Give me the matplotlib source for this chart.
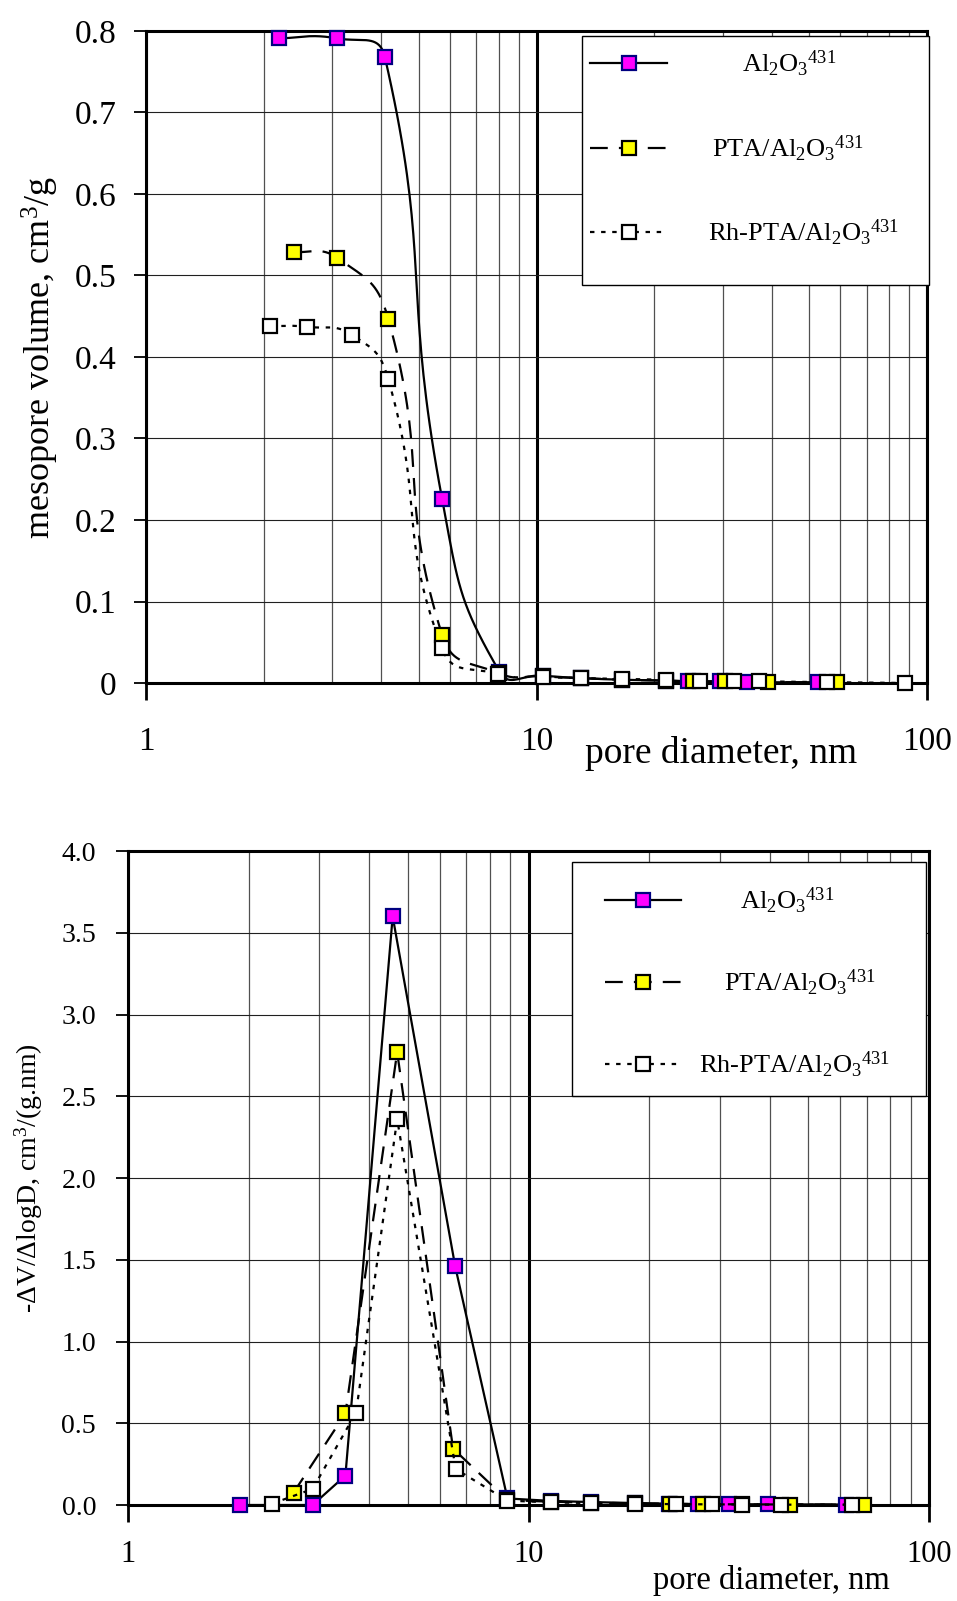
import numpy as np
import matplotlib
matplotlib.use("Agg")
import matplotlib.pyplot as plt
from matplotlib.patches import Rectangle
from matplotlib.ticker import LogLocator, FixedLocator, NullFormatter, FuncFormatter

plt.rcParams["font.family"] = ["Liberation Serif", "DejaVu Serif"]
plt.rcParams["mathtext.fontset"] = "custom"
plt.rcParams["mathtext.rm"] = "Liberation Serif"
plt.rcParams["mathtext.it"] = "Liberation Serif:italic"

# --- cumulative mesopore volume (top) ---
al_x = [2.19, 3.08, 4.09, 5.73, 8.03, 10.4, 13.0, 16.6, 21.4, 24.4, 29.5, 34.5, 52.7]
al_v = [0.791, 0.791, 0.768, 0.226, 0.014, 0.009, 0.006, 0.004, 0.003, 0.002, 0.002, 0.001, 0.001]
pta_x = [2.39, 3.08, 4.17, 5.73, 8.0, 10.4, 13.0, 16.6, 21.4, 25.2, 30.4, 39.2, 58.9]
pta_v = [0.529, 0.522, 0.447, 0.059, 0.012, 0.008, 0.006, 0.004, 0.003, 0.002, 0.002, 0.001, 0.001]
rh_x = [2.08, 2.59, 3.37, 4.17, 5.73, 7.97, 10.4, 13.0, 16.6, 21.4, 26.3, 32.1, 37.2, 55.6, 87.9]
rh_v = [0.438, 0.437, 0.427, 0.373, 0.0425, 0.011, 0.0075, 0.006, 0.005, 0.004, 0.003, 0.002, 0.002, 0.001, 0.0]

# --- pore size distribution (bottom) ---
al_xd = [1.90, 2.89, 3.49, 4.58, 6.56, 8.86, 11.4, 14.3, 18.4, 22.4, 26.5, 31.7, 39.7, 62.0]
al_d = [0.0, 0.0, 0.18, 3.60, 1.46, 0.04, 0.025, 0.018, 0.012, 0.008, 0.006, 0.005, 0.004, 0.003]
pta_xd = [2.59, 3.49, 4.70, 6.48, 8.86, 11.4, 14.3, 18.4, 22.6, 27.3, 34.2, 44.9, 69.0]
pta_d = [0.075, 0.56, 2.77, 0.345, 0.03, 0.02, 0.015, 0.01, 0.007, 0.005, 0.004, 0.003, 0.002]
rh_xd = [2.29, 2.89, 3.71, 4.70, 6.58, 8.86, 11.4, 14.3, 18.4, 23.4, 28.7, 34.2, 42.6, 64.2]
rh_d = [0.008, 0.098, 0.565, 2.36, 0.22, 0.027, 0.016, 0.012, 0.008, 0.005, 0.004, 0.003, 0.002, 0.002]

labels = [r"Al$_2$O$_3{}^{431}$", r"PTA/Al$_2$O$_3{}^{431}$", r"Rh-PTA/Al$_2$O$_3{}^{431}$"]


def smooth(xs, ys, ymax, n=40, s=0.5):
    # bezier smoothing (tangents weighted by segment length), in screen space
    W, H = 781.0, 652.0
    p = np.column_stack([np.log10(xs) / 2.0 * W, np.asarray(ys) / ymax * H])
    m = len(p)
    d = np.linalg.norm(np.diff(p, axis=0), axis=1)
    t = np.linspace(0, 1, n)[:, None]
    out = []
    for i in range(m - 1):
        a, b = p[i], p[i + 1]
        if i > 0:
            c1 = a + (p[i + 1] - p[i - 1]) * s * d[i] / (d[i - 1] + d[i])
        else:
            c1 = a + (b - a) / 3
        if i < m - 2:
            c2 = b - (p[i + 2] - p[i]) * s * d[i] / (d[i] + d[i + 1])
        else:
            c2 = b - (b - a) / 3
        out.append((1 - t) ** 3 * a + 3 * (1 - t) ** 2 * t * c1 + 3 * (1 - t) * t ** 2 * c2 + t ** 3 * b)
    out = np.vstack(out)
    return 10 ** (out[:, 0] / W * 2), out[:, 1] / H * ymax


styles = [
    dict(ls="-", mfc="#FF00FF", mec="#000080"),
    dict(ls=(0, (8, 5)), mfc="#FFFF00", mec="black"),
    dict(ls=(0, (2, 3)), mfc="white", mec="black"),
]


def style_axes(ax, ymax, ystep, xfs, yfs, xpad, ypad, fmt):
    ax.set_xscale("log")
    ax.set_xlim(1, 100)
    ax.set_ylim(0, ymax)
    ax.xaxis.set_major_locator(FixedLocator([1, 10, 100]))
    ax.xaxis.set_major_formatter(FuncFormatter(lambda v, p: "%g" % v))
    ax.xaxis.set_minor_locator(LogLocator(base=10, subs=np.arange(2, 10)))
    ax.xaxis.set_minor_formatter(NullFormatter())
    ax.set_yticks(np.arange(0, ymax + ystep / 2, ystep))
    ax.yaxis.set_major_formatter(FuncFormatter(fmt))
    ax.tick_params(axis="x", which="major", direction="out", length=12, width=2,
                   labelsize=xfs, pad=xpad)
    ax.tick_params(axis="x", which="minor", length=0)
    ax.tick_params(axis="y", which="major", direction="out", length=9, width=1.3,
                   labelsize=yfs, pad=ypad)
    ax.grid(True, axis="x", which="minor", color="#505050", lw=0.9)
    ax.grid(True, axis="x", which="major", color="black", lw=2.2)
    ax.grid(True, axis="y", which="major", color="#202020", lw=0.8)
    ax.set_axisbelow(True)
    for sp in ax.spines.values():
        sp.set_linewidth(2.2)


def add_legend(ax, handles, frame, anchor, shifts, spacing, textpad):
    ax.add_patch(Rectangle(frame[:2], frame[2], frame[3], transform=ax.transAxes,
                           facecolor="white", edgecolor="black", lw=1.0, zorder=5,
                           clip_on=False))
    leg = ax.legend(handles, labels, loc="upper left", bbox_to_anchor=anchor,
                    borderaxespad=0, borderpad=0, fontsize=19, frameon=False,
                    labelspacing=spacing, handlelength=2.9, handletextpad=textpad,
                    numpoints=1)
    leg.set_zorder(6)
    for t, dx in zip(leg.get_texts(), shifts):
        t.set_x(dx)
    return leg


def handle(st):
    return plt.Line2D([], [], color="black", lw=1.6, ls=st["ls"], marker="s", ms=10,
                      mfc=st["mfc"], mec=st["mec"], mew=1.6)


fig = plt.figure(figsize=(9.57, 16.01), dpi=100)

# top: cumulative volume
ax1 = fig.add_axes([146 / 957, 1 - 683 / 1601, 781 / 957, 652 / 1601])
style_axes(ax1, 0.8, 0.1, 24, 24, 19, 12, lambda v, p: "0" if v == 0 else "%.1f" % v)
for (xs, ys), st in zip([(al_x, al_v), (pta_x, pta_v), (rh_x, rh_v)], styles):
    sx, sy = smooth(xs, ys, 0.8)
    ax1.plot(sx, sy, color="black", lw=1.6, ls=st["ls"], zorder=3, clip_on=False)
    ax1.plot(xs, ys, ls="none", marker="s", ms=10, mfc=st["mfc"], mec=st["mec"],
             mew=1.6, zorder=4, clip_on=False)
ax1.set_ylabel("mesopore volume, cm$^3$/g", fontsize=26, labelpad=10)
ax1.text(0.562, -0.108, "pore diameter, nm", transform=ax1.transAxes, fontsize=27,
         ha="left", va="center")
add_legend(ax1, [handle(st) for st in styles], (0.558, 0.61, 0.444, 0.382),
           (0.569, 0.972), [38, 8, 4], 2.05, 1.4)

# bottom: pore size distribution
ax2 = fig.add_axes([128 / 957, 1 - 1505 / 1601, 801 / 957, 654 / 1601])
style_axes(ax2, 4.0, 0.5, 22, 20, 13, 14, lambda v, p: "%.1f" % v)
for (xs, ys), st in zip([(al_xd, al_d), (pta_xd, pta_d), (rh_xd, rh_d)], styles):
    ax2.plot(xs, ys, color="black", lw=1.6, ls=st["ls"], marker="s", ms=10,
             mfc=st["mfc"], mec=st["mec"], mew=1.6, zorder=3, clip_on=False)
ax2.set_ylabel(r"-$\Delta$V/$\Delta$logD, cm$^3$/(g.nm)", fontsize=20, labelpad=12)
ax2.text(0.656, -0.115, "pore diameter, nm", transform=ax2.transAxes, fontsize=23.5,
         ha="left", va="center")
add_legend(ax2, [handle(st) for st in styles], (0.554, 0.625, 0.442, 0.358),
           (0.595, 0.946), [41, 25, 0], 1.95, 0.66)

fig.savefig("out.png", dpi=100)
